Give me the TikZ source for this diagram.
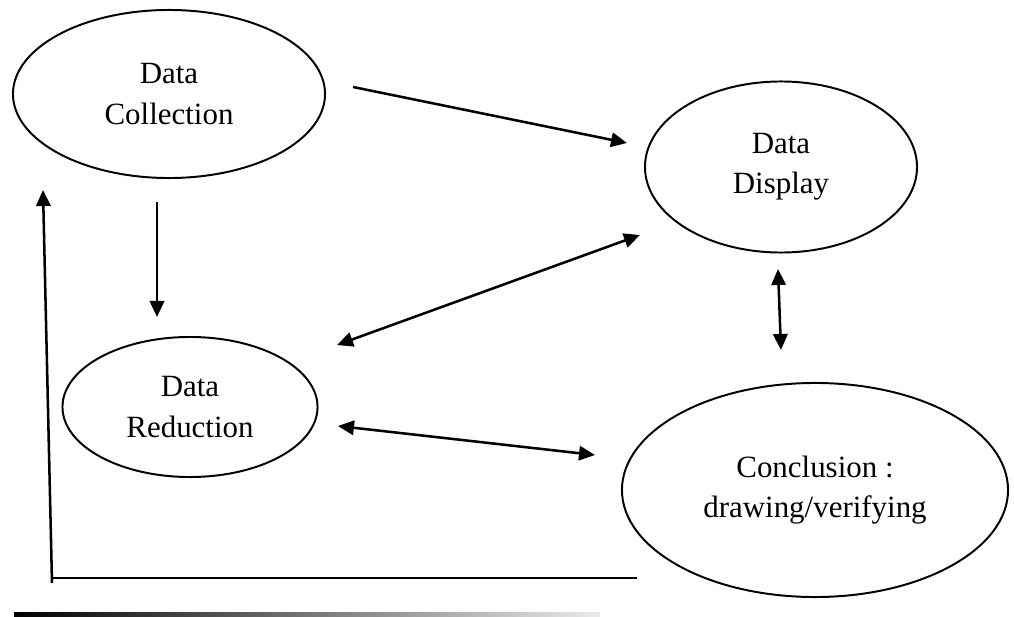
\documentclass[tikz,border=0pt]{standalone}
\usepackage{fontspec}
\setmainfont{Liberation Serif}
\usetikzlibrary{shapes.geometric,arrows.meta}

\begin{document}
\begin{tikzpicture}[x=0.025cm,y=-0.025cm,
  every node/.style={font=\fontsize{22}{28.5}\selectfont,align=center},
  stage/.style={ellipse,draw,line width=1.4pt,inner sep=0pt},
  flow/.style={line width=1.8pt,-{Triangle[length=4mm,width=3.6mm]}},
  twoway/.style={line width=1.8pt,{Triangle[length=4mm,width=3.6mm]}-{Triangle[length=4mm,width=3.6mm]}}]
\useasboundingbox (0,0) rectangle (1014,617);
% stages of the analysis
\node[stage,minimum width=7.8cm,minimum height=4.2cm] (collect) at (169,94) {Data\\Collection};
\node[stage,minimum width=6.8cm,minimum height=4.275cm] (display) at (781,167) {Data\\Display};
\node[stage,minimum width=6.375cm,minimum height=3.5cm] (reduce) at (190,407) {Data\\Reduction};
\node[stage,minimum width=9.65cm,minimum height=5.35cm] (conclude) at (815,490) {Conclusion :\\drawing/verifying};
% arrow end points (arrows stop short of the ellipses)
\coordinate (cd1) at (353,87);  \coordinate (cd2) at (627,143);
\coordinate (cr1) at (157,202); \coordinate (cr2) at (157,317);
\coordinate (rd1) at (337,345); \coordinate (rd2) at (640,235);
\coordinate (dc1) at (778,269); \coordinate (dc2) at (781,350);
\coordinate (rc1) at (338,426); \coordinate (rc2) at (595,455);
\draw[flow] (cd1) -- (cd2);
\draw[flow] (cr1) -- (cr2);
\draw[twoway] (rd1) -- (rd2);
\draw[twoway] (dc1) -- (dc2);
\draw[twoway] (rc1) -- (rc2);
% feedback loop back to the start
\coordinate (loopbot) at (52,583);
\coordinate (looptop) at (43,190);
\coordinate (loopcorner) at (52,578);
\coordinate (loopend) at (637,578);
\draw[flow] (loopbot) -- (looptop);
\draw[line width=0.9pt] (loopcorner) -- (loopend);
% fading rule at the foot
\shade[left color=black,middle color=black!90,right color=black!8] (14,612) rectangle (600,617);
\end{tikzpicture}
\end{document}
